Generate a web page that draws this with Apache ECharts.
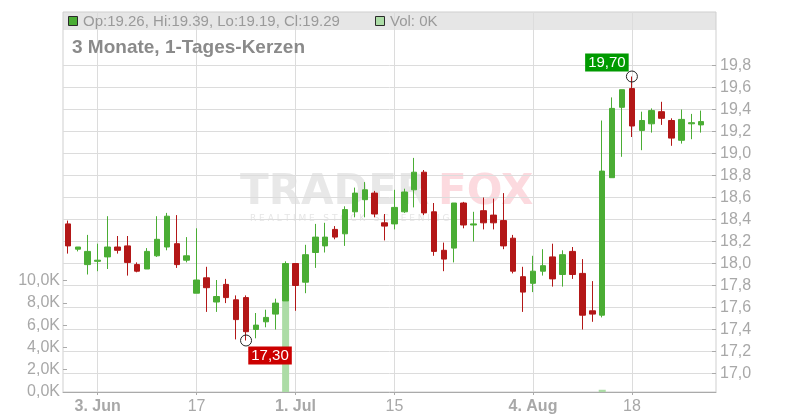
<!DOCTYPE html>
<html><head><meta charset="utf-8">
<script src="https://cdn.jsdelivr.net/npm/echarts@6/dist/echarts.min.js"></script>
<style>html,body{margin:0;padding:0;background:#fff}#c{width:800px;height:420px}</style>
</head><body><div id="c"></div>
<script>
// ---- data ----
const dates = ['2025-05-29','2025-05-30',
 '2025-06-02','2025-06-03','2025-06-04','2025-06-05','2025-06-06','2025-06-09','2025-06-10','2025-06-11','2025-06-12','2025-06-13',
 '2025-06-16','2025-06-17','2025-06-18','2025-06-19','2025-06-20','2025-06-23','2025-06-24','2025-06-25','2025-06-26','2025-06-27','2025-06-30',
 '2025-07-01','2025-07-02','2025-07-03','2025-07-04','2025-07-07','2025-07-08','2025-07-09','2025-07-10','2025-07-11',
 '2025-07-14','2025-07-15','2025-07-16','2025-07-17','2025-07-18','2025-07-21','2025-07-22','2025-07-23','2025-07-24','2025-07-25',
 '2025-07-28','2025-07-29','2025-07-30','2025-07-31','2025-08-01',
 '2025-08-04','2025-08-05','2025-08-06','2025-08-07','2025-08-08','2025-08-11','2025-08-12','2025-08-13','2025-08-14','2025-08-15',
 '2025-08-18','2025-08-19','2025-08-20','2025-08-21','2025-08-22','2025-08-25','2025-08-26','2025-08-27'];
const padDates = ['2025-08-28'];
const opens  = [18.36,18.13,17.99,18.02,18.06,18.15,18.16,17.99,17.95,18.07,18.15,18.18,18.03,17.73,17.87,17.65,17.81,17.67,17.69,17.40,17.47,17.54,17.66,
 18.00,17.83,18.10,18.16,18.31,18.27,18.47,18.58,18.64,18.37,18.36,18.47,18.67,18.83,18.47,18.12,18.14,18.55,18.35,18.48,18.44,18.39,18.23,17.88,
 17.82,17.93,18.06,17.90,18.11,17.91,17.57,17.53,18.78,19.42,19.59,19.21,19.27,19.38,19.30,19.12,19.27,19.26];
const closes = [18.16,18.15,18.11,18.03,18.15,18.12,18.01,17.93,18.11,18.22,18.43,17.99,18.07,17.85,17.78,17.70,17.69,17.49,17.38,17.44,17.51,17.64,18.00,
 17.80,18.08,18.24,18.24,18.24,18.49,18.64,18.67,18.45,18.34,18.51,18.65,18.83,18.46,18.11,18.04,18.55,18.35,18.36,18.37,18.37,18.16,17.93,17.74,
 17.93,17.98,17.86,18.08,17.90,17.53,17.54,18.84,19.41,19.58,19.25,19.30,19.39,19.32,19.14,19.31,19.28,19.29];
const lows   = [18.09,18.11,17.90,17.93,17.95,18.09,17.89,17.92,17.95,18.06,18.12,17.96,18.01,17.73,17.56,17.56,17.64,17.31,17.30,17.32,17.42,17.40,17.66,
 17.57,17.73,17.96,18.10,18.22,18.16,18.42,18.42,18.42,18.21,18.31,18.46,18.51,18.44,18.07,17.93,18.01,18.32,18.20,18.31,18.31,18.13,17.91,17.56,
 17.74,17.89,17.79,17.79,17.86,17.40,17.47,17.51,18.78,18.97,19.15,19.03,19.19,19.26,19.07,19.09,19.13,19.19];
const highs  = [18.39,18.15,18.26,18.18,18.43,18.25,18.25,18.01,18.14,18.43,18.46,18.44,18.24,18.32,17.97,17.85,17.86,17.71,17.71,17.55,17.58,17.68,18.02,
 18.00,18.17,18.36,18.37,18.34,18.52,18.69,18.74,18.66,18.45,18.67,18.68,18.96,18.85,18.55,18.19,18.55,18.56,18.47,18.60,18.59,18.64,18.26,17.97,
 18.07,18.13,18.18,18.12,18.15,18.04,17.84,19.30,19.51,19.58,19.70,19.38,19.41,19.47,19.32,19.40,19.36,19.39];
const volumes = [0,0,0,0,0,0,0,0,0,0,0,0,0,0,0,0,0,0,0,0,0,0,9.3,
 0,0,0,0,0,0,0,0,0,0,0,0,0,0,0,0,0,0,0,0,0,0,0,0,
 0,0,0,0,0,0,0,0.2,0,0,0,0,0,0,0,0,0,0];
const xTickDates  = ['2025-06-03','2025-06-17','2025-07-01','2025-07-15','2025-08-04','2025-08-18'];
const xTickLabels = ['3. Jun','17','1. Jul','15','4. Aug','18'];
const priceTicks = { min: 17.0, max: 19.8, step: 0.2 };
const volTicks = { min: 0, max: 10, step: 2 };
const titleText = '3 Monate, 1-Tages-Kerzen';

// ---- build ----
const GREEN = '#4aad34', RED = '#b31717', VOLC = '#acdca6';
const cats = dates.concat(padDates);
const candle = dates.map((d, i) => [opens[i], closes[i], lows[i], highs[i]]).concat(padDates.map(() => '-'));
const vols = volumes.concat(padDates.map(() => '-'));
const last = dates.length - 1;
const iMin = lows.indexOf(Math.min(...lows));
const iMax = highs.indexOf(Math.max(...highs));
const comma = (v, n) => v.toFixed(n).replace('.', ',');
const isTick = (idx, val) => xTickDates.indexOf(val !== undefined ? val : cats[idx]) >= 0;
const FONT = 'Liberation Sans, Arial, sans-serif';
const WFONT = 'DejaVu Sans, sans-serif';

const L = 63, R = 84;
const chart = echarts.init(document.getElementById('c'), null, { renderer: 'canvas' });
chart.setOption({
  animation: false,
  textStyle: { fontFamily: FONT },
  grid: [
    { left: L, right: R, top: 12, bottom: 28, show: true, borderColor: '#cfcfcf', borderWidth: 1, outerBoundsMode: 'none', containLabel: false },
    { left: L, right: R, top: 65.5, bottom: 46.5, outerBoundsMode: 'none', containLabel: false },
    { left: L, right: R, top: 280.5, bottom: 28, outerBoundsMode: 'none', containLabel: false }
  ],
  xAxis: [
    { gridIndex: 0, type: 'category', data: cats, boundaryGap: true,
      axisLine: { show: true, lineStyle: { color: '#aaaaaa' } },
      axisTick: { show: true, interval: isTick, alignWithLabel: true, length: 3, lineStyle: { color: '#aaaaaa' } },
      axisLabel: { show: true, interval: isTick, margin: 7, color: '#a8a8a8', fontSize: 16, fontFamily: FONT,
        formatter: (v) => { const k = xTickDates.indexOf(v); if (k < 0) return ''; const s = xTickLabels[k]; return s.indexOf('.') >= 0 ? '{b|' + s + '}' : '{n|' + s + '}'; },
        rich: { b: { fontWeight: 'bold', fontSize: 16, color: '#a8a8a8', fontFamily: FONT }, n: { fontSize: 16, color: '#a8a8a8', fontFamily: FONT } } },
      splitLine: { show: true, interval: isTick, alignWithLabel: true, lineStyle: { color: '#dcdcdc', width: 1 } } },
    { gridIndex: 1, type: 'category', data: cats, boundaryGap: true, show: false },
    { gridIndex: 2, type: 'category', data: cats, boundaryGap: true, show: false }
  ],
  yAxis: [
    { gridIndex: 0, type: 'value', show: false },
    { gridIndex: 1, type: 'value', position: 'right', min: priceTicks.min, max: priceTicks.max, interval: priceTicks.step,
      axisLine: { show: false },
      axisTick: { show: true, inside: true, length: 4, lineStyle: { color: '#aaaaaa' } },
      axisLabel: { show: true, margin: 4, color: '#a8a8a8', fontSize: 16, fontFamily: FONT, formatter: (v) => comma(v, 1) },
      splitLine: { show: true, lineStyle: { color: '#dcdcdc', width: 1 } } },
    { gridIndex: 2, type: 'value', position: 'left', min: volTicks.min, max: volTicks.max, interval: volTicks.step,
      axisLine: { show: false },
      axisTick: { show: true, inside: true, length: 4, lineStyle: { color: '#aaaaaa' } },
      axisLabel: { show: true, margin: 3, color: '#a8a8a8', fontSize: 16, fontFamily: FONT, formatter: (v) => comma(v, 1) + 'K' },
      splitLine: { show: false } }
  ],
  series: [
    { type: 'bar', xAxisIndex: 2, yAxisIndex: 2, data: vols, barWidth: 7, silent: true, z: 1,
      itemStyle: { color: VOLC } },
    { type: 'candlestick', xAxisIndex: 1, yAxisIndex: 1, data: candle, barWidth: 6, clip: false, z: 3, silent: true,
      itemStyle: { color: GREEN, color0: RED, borderColor: GREEN, borderColor0: RED, borderWidth: 1 },
      markPoint: {
        symbol: 'circle', symbolSize: 11, silent: true,
        itemStyle: { color: 'rgba(0,0,0,0)', borderColor: '#222', borderWidth: 1 },
        data: [
          { coord: [cats[iMin], lows[iMin]],
            label: { show: true, position: 'inside', offset: [24, 15], formatter: comma(lows[iMin], 2),
              color: '#fff', backgroundColor: '#cc0000', padding: [2, 3, 1, 3], fontSize: 15, fontFamily: FONT } },
          { coord: [cats[iMax], highs[iMax]],
            label: { show: true, position: 'inside', offset: [-25, -14], formatter: comma(highs[iMax], 2),
              color: '#fff', backgroundColor: '#009a00', padding: [2, 3, 1, 3], fontSize: 15, fontFamily: FONT } }
        ]
      } }
  ],
  graphic: [
    { type: 'rect', silent: true, z: -10, shape: { x: L, y: 12, width: 800 - L - R, height: 18 }, style: { fill: '#e6e6e6' } },
    { type: 'text', silent: true, z: -5, x: 240, y: 193,
      style: { text: 'TRADER', fill: '#e8e8e8', font: 'bold 42px ' + WFONT, textVerticalAlign: 'middle' } },
    { type: 'text', silent: true, z: -5, x: 438, y: 193,
      style: { text: 'FOX', fill: '#fcdadf', font: 'bold 42px ' + WFONT, textVerticalAlign: 'middle' } },
    { type: 'text', silent: true, z: -5, x: 250, y: 218.5,
      style: { text: 'R E A L T I M E   S T O C K   S C R E E N I N G', fill: '#e6e6e6', font: '9px ' + WFONT, textVerticalAlign: 'middle' } },
    { type: 'rect', silent: true, z: 20, shape: { x: 68.5, y: 16.5, width: 9, height: 9 }, style: { fill: GREEN, stroke: '#2a2a2a', lineWidth: 1 } },
    { type: 'text', silent: true, z: 20, x: 83, y: 21.5,
      style: { text: 'Op:' + opens[last].toFixed(2) + ', Hi:' + highs[last].toFixed(2) + ', Lo:' + lows[last].toFixed(2) + ', Cl:' + closes[last].toFixed(2),
        fill: '#9a9a9a', font: '15px ' + FONT, textVerticalAlign: 'middle' } },
    { type: 'rect', silent: true, z: 20, shape: { x: 375.5, y: 16.5, width: 9, height: 9 }, style: { fill: VOLC, stroke: '#2a2a2a', lineWidth: 1 } },
    { type: 'text', silent: true, z: 20, x: 390, y: 21.5,
      style: { text: 'Vol: ' + volumes[last] + 'K', fill: '#9a9a9a', font: '15px ' + FONT, textVerticalAlign: 'middle' } },
    { type: 'text', silent: true, z: 20, x: 72, y: 48,
      style: { text: titleText, fill: '#8a8a8a', font: 'bold 19px ' + FONT, textVerticalAlign: 'middle' } }
  ]
});
</script>
</body></html>
